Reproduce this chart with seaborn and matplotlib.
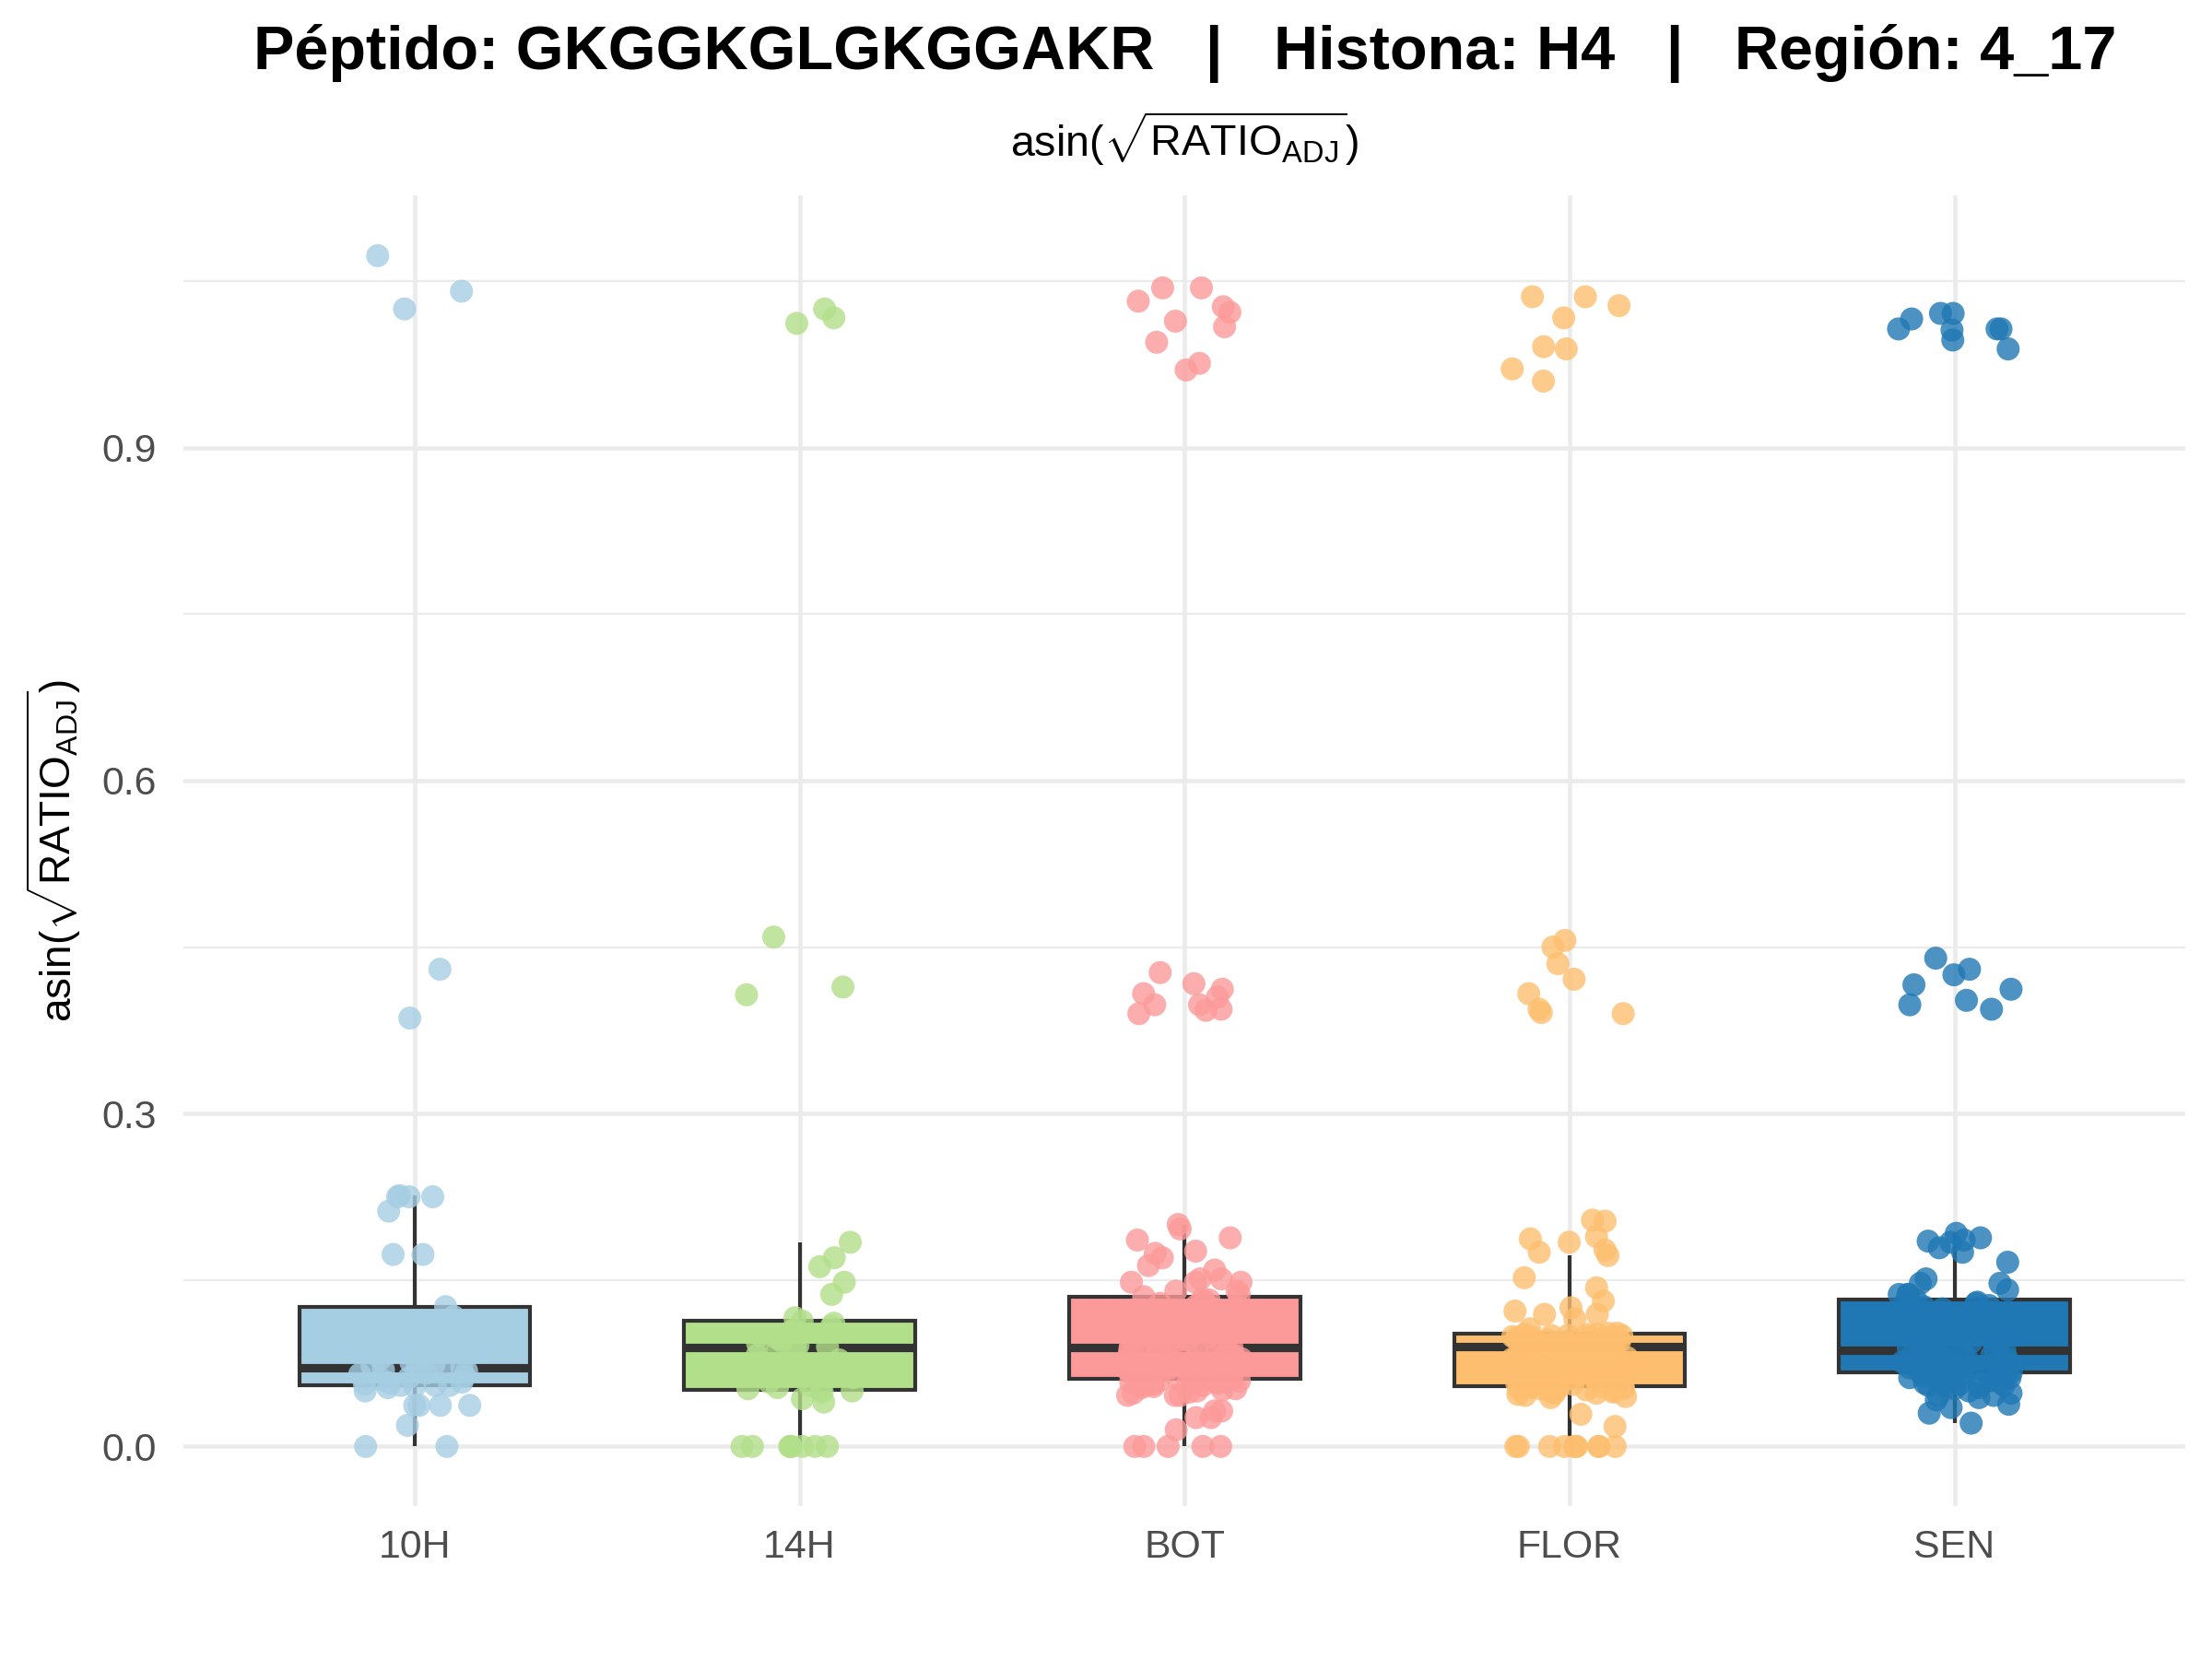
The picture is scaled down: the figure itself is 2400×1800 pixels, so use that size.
import numpy as np
import pandas as pd
import seaborn as sns
import matplotlib.pyplot as plt

# grupos y colores (paleta Paired)
groups = ["10H", "14H", "BOT", "FLOR", "SEN"]
colors = ["#A6CEE3", "#B2DF8A", "#FB9A99", "#FDBF6F", "#1F78B4"]

# valores asin(sqrt(RATIO_ADJ))
vals_10h = [0.0, 0.0, 0.019, 0.037, 0.037, 0.037, 0.037, 0.050, 0.053, 0.054, 0.055, 0.055,
            0.055,
            0.056, 0.057, 0.058, 0.060, 0.062, 0.063, 0.065, 0.066, 0.068, 0.069, 0.070,
            0.071,
            0.072, 0.073, 0.073, 0.074, 0.076, 0.079, 0.084, 0.090, 0.098, 0.107, 0.117,
            0.126,
            0.173, 0.173, 0.212, 0.225, 0.225, 0.225, 0.226, 0.386, 0.430, 1.025, 1.041, 1.073]

vals_14h = [0.0, 0.0, 0.0, 0.0, 0.0, 0.0, 0.0, 0.0, 0.040, 0.043, 0.049, 0.050,
            0.051,
            0.052, 0.053, 0.055, 0.058, 0.062, 0.066, 0.070, 0.074, 0.078, 0.082, 0.086,
            0.089,
            0.090, 0.091, 0.093, 0.095, 0.097, 0.098, 0.100, 0.103, 0.105, 0.108, 0.111,
            0.113,
            0.116, 0.137, 0.148, 0.162, 0.170, 0.184, 0.407, 0.414, 0.459, 1.012, 1.017, 1.025]

vals_bot = [0.0, 0.0, 0.0, 0.0, 0.0, 0.015, 0.026, 0.026, 0.032, 0.032, 0.046, 0.046, 0.046,
            0.048, 0.049, 0.050, 0.051, 0.052, 0.053, 0.054, 0.055, 0.055, 0.056, 0.056, 0.057,
            0.057, 0.058, 0.058, 0.058, 0.059, 0.059, 0.059, 0.060, 0.060, 0.060, 0.060, 0.061,
            0.061,
            0.062, 0.063, 0.063, 0.064, 0.065, 0.065, 0.066, 0.067, 0.068, 0.068,
            0.069, 0.070, 0.071, 0.071, 0.072, 0.073, 0.074, 0.075, 0.075, 0.076,
            0.077, 0.078, 0.079, 0.079, 0.080, 0.081, 0.082, 0.083, 0.083, 0.084,
            0.085, 0.086, 0.086, 0.087, 0.088, 0.088,
            0.089,
            0.090, 0.091, 0.092, 0.093, 0.094, 0.095, 0.096, 0.097, 0.098, 0.099,
            0.100, 0.101, 0.102, 0.104, 0.105, 0.106, 0.107, 0.108, 0.110, 0.111,
            0.112, 0.113, 0.115, 0.116, 0.117, 0.119, 0.120, 0.121, 0.123, 0.124,
            0.126, 0.127, 0.129, 0.130, 0.132, 0.133,
            0.135,
            0.137, 0.140, 0.140, 0.148, 0.148, 0.148, 0.151, 0.151, 0.159, 0.163,
            0.170, 0.174, 0.176, 0.186, 0.188, 0.196, 0.200,
            0.390, 0.393, 0.394, 0.398, 0.398, 0.405, 0.408, 0.412, 0.417, 0.427,
            0.970, 0.976, 0.995, 1.009, 1.014, 1.022, 1.027, 1.032, 1.044, 1.044]

vals_flor = [0.0, 0.0, 0.0, 0.0, 0.0, 0.0, 0.0, 0.0, 0.0, 0.0, 0.018, 0.029,
             0.044, 0.045, 0.046, 0.047, 0.048, 0.048, 0.049, 0.049, 0.050, 0.050, 0.051,
             0.051, 0.052, 0.052, 0.052, 0.053, 0.053, 0.053, 0.053, 0.054, 0.054,
             0.054,
             0.055, 0.056, 0.057, 0.058, 0.059, 0.060, 0.061, 0.062, 0.063, 0.064,
             0.066, 0.067, 0.068, 0.069, 0.071, 0.072, 0.073, 0.074, 0.076, 0.077,
             0.078, 0.079, 0.080, 0.081, 0.082, 0.083, 0.084, 0.085, 0.086, 0.087,
             0.088, 0.089,
             0.090,
             0.090, 0.090, 0.091, 0.091, 0.091, 0.092, 0.092, 0.093, 0.093, 0.093,
             0.094, 0.094, 0.095, 0.095, 0.095, 0.096, 0.096, 0.097, 0.097, 0.097,
             0.098, 0.098, 0.099, 0.099, 0.099, 0.100, 0.100, 0.100, 0.101, 0.101,
             0.101, 0.102,
             0.102,
             0.106, 0.115, 0.119, 0.119, 0.122, 0.125, 0.131, 0.143, 0.152, 0.172,
             0.175, 0.177, 0.184, 0.187, 0.189, 0.203, 0.204,
             0.390, 0.391, 0.394, 0.408, 0.421, 0.435, 0.450, 0.456,
             0.960, 0.971, 0.989, 0.991, 1.017, 1.028, 1.036, 1.036]

vals_sen = [0.021, 0.030, 0.035, 0.038, 0.042, 0.044, 0.046, 0.046, 0.048, 0.050,
            0.052, 0.053, 0.054, 0.055, 0.055, 0.055, 0.056, 0.057, 0.058, 0.058,
            0.059, 0.060, 0.060, 0.061, 0.062, 0.062, 0.063, 0.064, 0.064, 0.065,
            0.065, 0.066,
            0.0665,
            0.067, 0.068, 0.068, 0.069, 0.070, 0.070, 0.071, 0.072, 0.072, 0.073,
            0.074, 0.074, 0.075, 0.076, 0.077, 0.077, 0.078, 0.079, 0.079, 0.080,
            0.080, 0.081, 0.082, 0.082, 0.083, 0.083, 0.084, 0.085, 0.085, 0.086, 0.086,
            0.0867,
            0.088, 0.089, 0.091, 0.092, 0.094, 0.095, 0.097, 0.098, 0.100, 0.101,
            0.103, 0.104, 0.106, 0.107, 0.109, 0.110, 0.112, 0.113, 0.115, 0.116,
            0.118, 0.119, 0.121, 0.122, 0.124, 0.125, 0.126, 0.127, 0.129, 0.130, 0.131,
            0.1324,
            0.137, 0.137, 0.137, 0.141, 0.147, 0.147, 0.151, 0.166, 0.175, 0.179,
            0.184, 0.185, 0.186, 0.188, 0.192,
            0.394, 0.398, 0.402, 0.412, 0.416, 0.425, 0.430, 0.440,
            0.989, 0.997, 1.006, 1.007, 1.007, 1.007, 1.016, 1.021, 1.021]

yticks = [0.0, 0.3, 0.6, 0.9]
yticks_minor = [0.15, 0.45, 0.75, 1.05]

title = "Péptido: GKGGKGLGKGGAKR   |   Histona: H4   |   Región: 4_17"
math_label = r"$\mathrm{asin}(\sqrt{\mathrm{RATIO}_{\mathrm{ADJ}}})$"

all_vals = [vals_10h, vals_14h, vals_bot, vals_flor, vals_sen]
df = pd.DataFrame({
    "grupo": [g for g, v in zip(groups, all_vals) for _ in v],
    "valor": [x for v in all_vals for x in v],
})

sns.set_style("white")
plt.rcParams["font.family"] = ["Liberation Sans", "DejaVu Sans"]
plt.rcParams["mathtext.fontset"] = "custom"
plt.rcParams["mathtext.rm"] = "Liberation Sans"
plt.rcParams["mathtext.it"] = "Liberation Sans:italic"

fig = plt.figure(figsize=(8, 6), dpi=300)
ax = fig.add_axes([0.083, 0.092, 0.905, 0.79])

sns.boxplot(data=df, x="grupo", y="valor", hue="grupo", order=groups, hue_order=groups,
            palette=colors, saturation=1, width=0.6, showfliers=False, showcaps=False,
            linecolor="#333333", linewidth=1.0, legend=False,
            medianprops={"linewidth": 2.2, "color": "#333333"}, ax=ax)

np.random.seed(7)
sns.stripplot(data=df, x="grupo", y="valor", hue="grupo", order=groups, hue_order=groups,
              palette=colors, jitter=0.15, size=6, alpha=0.8, linewidth=0,
              legend=False, ax=ax)

ax.set_xlim(-0.6, 4.6)
ax.set_ylim(-0.054, 1.127)
ax.set_yticks(yticks)
ax.set_yticklabels([f"{t:.1f}" for t in yticks])
ax.set_yticks(yticks_minor, minor=True)
ax.set_axisbelow(True)
ax.grid(which="major", color="#EBEBEB", linewidth=1.1)
ax.grid(which="minor", axis="y", color="#EBEBEB", linewidth=0.55)
for s in ax.spines.values():
    s.set_visible(False)
ax.tick_params(which="both", length=0)
ax.tick_params(axis="x", labelsize=10.3, labelcolor="#4D4D4D", pad=6)
ax.tick_params(axis="y", labelsize=10.3, labelcolor="#4D4D4D", pad=7)
ax.set_xlabel("")
ax.set_ylabel(math_label, fontsize=11, labelpad=5, color="black")

fig.text(0.5355, 0.968, title, ha="center", va="center", fontsize=16,
         fontweight="bold", color="black")
fig.text(0.5355, 0.916, math_label, ha="center", va="center", fontsize=11.2, color="black")

fig.savefig("out.png", dpi=300)
